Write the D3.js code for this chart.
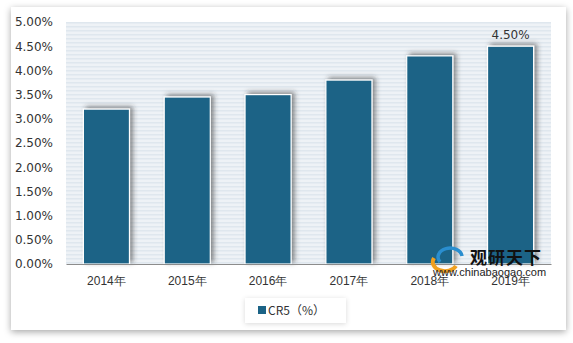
<!DOCTYPE html>
<html><head><meta charset="utf-8">
<script src="https://cdn.jsdelivr.net/npm/d3@7"></script>
<style>
html,body{margin:0;padding:0;background:#fff;}
svg{display:block;font-family:"Microsoft YaHei","Noto Sans CJK SC","DejaVu Sans",sans-serif;}
</style></head>
<body>
<svg id="c" width="573" height="343"></svg>
<script>
const categories = ["2014年","2015年","2016年","2017年","2018年","2019年"];
const values = [3.20, 3.45, 3.50, 3.80, 4.30, 4.50];
const yTicks = [0,0.5,1,1.5,2,2.5,3,3.5,4,4.5,5];
const seriesName = "CR5（%）";
const labelled = ["2019年"];

const svg = d3.select("#c");
const defs = svg.append("defs");

const f1 = defs.append("filter").attr("id","panelShadow").attr("x","-10%").attr("y","-10%").attr("width","120%").attr("height","120%");
f1.append("feDropShadow").attr("dx",0).attr("dy",2).attr("stdDeviation",3.5).attr("flood-color","#000").attr("flood-opacity",0.35);

const f2 = defs.append("filter").attr("id","barShadow").attr("x","-30%").attr("y","-30%").attr("width","160%").attr("height","160%");
f2.append("feDropShadow").attr("dx",3).attr("dy",-2).attr("stdDeviation",2.5).attr("flood-color","#333").attr("flood-opacity",0.55);

const f3 = defs.append("filter").attr("id","legShadow").attr("x","-20%").attr("y","-40%").attr("width","140%").attr("height","180%");
f3.append("feDropShadow").attr("dx",0).attr("dy",1).attr("stdDeviation",2.5).attr("flood-color","#000").attr("flood-opacity",0.15);

const pat = defs.append("pattern").attr("id","stripes").attr("patternUnits","userSpaceOnUse").attr("width",8).attr("height",4);
pat.append("rect").attr("width",8).attr("height",4).attr("fill","#eef2f6");
pat.append("rect").attr("y",2).attr("width",8).attr("height",1.5).attr("fill","#dfe7ee");

// outer panel
svg.append("rect").attr("x",11).attr("y",7).attr("width",555).attr("height",323).attr("fill","#fff").attr("filter","url(#panelShadow)");

const margin = {left:66, right:551, top:22, bottom:264};
const x = d3.scaleBand().domain(categories).range([margin.left, margin.right]).paddingInner(0.43).paddingOuter(0.215);
const y = d3.scaleLinear().domain([0,5]).range([margin.bottom, margin.top]);

// plot background
svg.append("rect").attr("x",margin.left).attr("y",margin.top).attr("width",margin.right-margin.left).attr("height",margin.bottom-margin.top).attr("fill","url(#stripes)");

// y axis
const yAxis = svg.append("g").attr("transform",`translate(${margin.left},0)`)
  .call(d3.axisLeft(y).tickValues(yTicks).tickFormat(d=>d.toFixed(2)+"%").tickSize(0).tickPadding(13));
yAxis.select(".domain").remove();
yAxis.selectAll("text").attr("font-size",12).attr("fill","#333").attr("font-family","'DejaVu Sans',sans-serif").style("font-size","12px");

// bars
svg.append("g").selectAll("rect").data(categories).join("rect")
  .attr("x",d=>x(d)).attr("y",(d,i)=>y(values[i])).attr("width",x.bandwidth())
  .attr("height",(d,i)=>y(0)-y(values[i]))
  .attr("fill","#1b6386").attr("stroke","#fff").attr("stroke-width",1.2)
  .attr("filter","url(#barShadow)");

// x axis
const xAxis = svg.append("g").attr("transform",`translate(0,${margin.bottom})`)
  .call(d3.axisBottom(x).tickSize(0).tickPadding(12));
xAxis.select(".domain").attr("stroke","#8c8c8c").attr("stroke-width",1.2);
xAxis.selectAll("text").attr("fill","#333").style("font-size","12px");

// data label
svg.append("g").selectAll("text").data(categories.filter(c=>labelled.includes(c))).join("text")
  .attr("x",d=>x(d)+x.bandwidth()/2).attr("y",d=>y(values[categories.indexOf(d)])-7)
  .attr("text-anchor","middle").attr("fill","#333").style("font-size","12px")
  .attr("font-family","'DejaVu Sans',sans-serif")
  .text(d=>values[categories.indexOf(d)].toFixed(2)+"%");

// legend
const leg = svg.append("g");
leg.append("rect").attr("x",245).attr("y",298).attr("width",101).attr("height",25).attr("fill","#fff").attr("filter","url(#legShadow)");
leg.append("rect").attr("x",258).attr("y",306).attr("width",8).attr("height",8).attr("fill","#1b6386");
leg.append("text").attr("x",268).attr("y",315).attr("fill","#333").style("font-size","12px").text(seriesName);

// watermark
const wm = svg.append("g");
wm.append("path").attr("d","M440,262 a12,9 0 1,1 22,-6").attr("fill","none").attr("stroke","#2a8ecf").attr("stroke-width",3.5);
wm.append("path").attr("d","M434,258 a12,9 0 0,0 22,8").attr("fill","none").attr("stroke","#f0a020").attr("stroke-width",4);
wm.append("text").attr("x",470).attr("y",264).attr("fill","#111").attr("font-weight","bold").style("font-size","17px").style("letter-spacing","1px").text("观研天下");
wm.append("text").attr("x",433).attr("y",276).attr("fill","#222").attr("font-family","'Liberation Sans',Arial,sans-serif").style("font-size","11px").text("www.chinabaogao.com");
</script>
</body></html>
